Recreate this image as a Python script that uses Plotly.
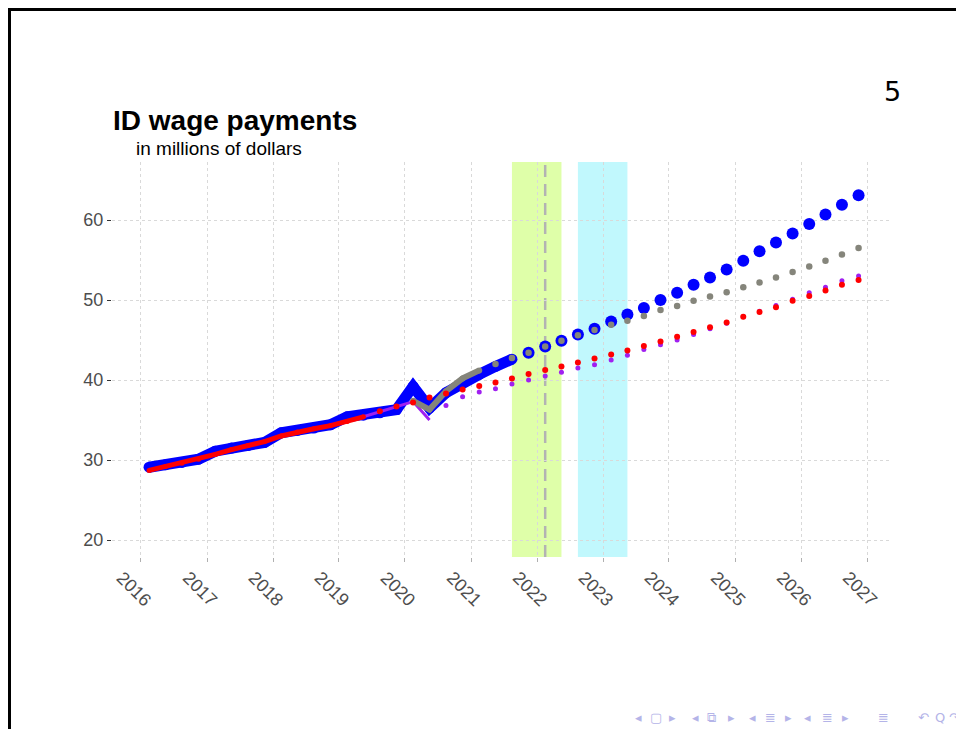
"""ID wage payments: actuals, forecasts and alternative projections (quarterly)."""

import pandas as pd
import plotly.graph_objects as go

QUARTERS = [
    "2016Q1", "2016Q2", "2016Q3", "2016Q4", "2017Q1", "2017Q2", "2017Q3", "2017Q4",
    "2018Q1", "2018Q2", "2018Q3", "2018Q4", "2019Q1", "2019Q2", "2019Q3", "2019Q4",
    "2020Q1", "2020Q2", "2020Q3", "2020Q4", "2021Q1", "2021Q2", "2021Q3", "2021Q4",
    "2022Q1", "2022Q2", "2022Q3", "2022Q4", "2023Q1", "2023Q2", "2023Q3", "2023Q4",
    "2024Q1", "2024Q2", "2024Q3", "2024Q4", "2025Q1", "2025Q2", "2025Q3", "2025Q4",
    "2026Q1", "2026Q2", "2026Q3", "2026Q4",
]
YEAR_LABELS = ["2016", "2017", "2018", "2019", "2020", "2021",
               "2022", "2023", "2024", "2025", "2026", "2027"]

# actual payments 2016Q1-2021Q3, then forecast 2021Q4-2026Q4
BLUE_ACTUAL = [29.1, 29.4, 29.7, 30.1, 31.1, 31.5, 31.8, 32.2, 33.4, 33.7, 34.0, 34.4,
               35.4, 35.6, 35.9, 36.3, 39.2, 36.5, 38.4, 39.7, 40.7, 41.7, 42.6]
BLUE_FCST = [43.4, 44.2, 44.9, 45.7, 46.4, 47.3, 48.2, 49.0, 50.0, 50.9, 51.9,
             52.8, 53.8, 54.9, 56.1, 57.2, 58.3, 59.5, 60.7, 61.9, 63.1]

# gray: line 2020Q1-2021Q1, dots 2021Q2-2026Q4
GRAY_LINE = [37.4, 36.3, 38.6, 40.2, 41.2]
GRAY_DOTS = [42.0, 42.75, 43.4, 44.2, 44.9, 45.6, 46.25, 46.9, 47.4, 48.0, 48.75,
             49.25, 49.9, 50.45, 50.96, 51.6, 52.2, 52.8, 53.5, 54.2, 54.9, 55.7, 56.5]

# red: line 2016Q1-2019Q2, dots 2019Q3-2026Q4
RED_LINE = [28.7, 29.2, 29.6, 30.1, 30.7, 31.3, 31.8, 32.3, 33.0, 33.5, 33.9, 34.3,
            34.8, 35.4]
RED_DOTS = [36.1, 36.7, 37.2, 37.8, 38.3, 38.8, 39.25, 39.7, 40.2, 40.75,
            41.25, 41.7, 42.2, 42.7, 43.2, 43.7, 44.25, 44.8, 45.4, 46.0,
            46.6, 47.2, 47.9, 48.5, 49.1, 49.9, 50.5, 51.2, 51.9, 52.5]

# purple: line 2019Q2-2020Q2, dots 2020Q3-2026Q4
PURPLE_LINE = [35.4, 36.0, 36.6, 37.3, 35.0]
PURPLE_DOTS = [36.8, 37.9, 38.5, 38.9, 39.5, 40.0, 40.5, 40.96, 41.5, 41.9,
               42.5, 43.1, 43.8, 44.4, 45.0, 45.7, 46.4, 47.1, 47.9, 48.6,
               49.3, 50.1, 50.9, 51.6, 52.4, 53.0]

SHADE_GREEN = ("2021Q3", "2022Q2")
SHADE_CYAN = ("2022Q3", "2023Q2")
VLINE_Q = "2022Q1"


def mid_quarter(q):
    return pd.Period(q, freq="Q").start_time + pd.Timedelta(days=45)


def dates_from(start, n):
    i = QUARTERS.index(start)
    return [mid_quarter(q) for q in QUARTERS[i:i + n]]


# slide layout in screen pixels; the page body adds an 8px margin
W, H = 964, 729
PAD = 8
L, R, T, B = 112, 892, 162, 557


def px(x):
    return (x - L) / (R - L)


def py(y):
    return (B - y) / (B - T)


BLUE = "#0000ff"
RED = "#ff0000"
GRAY = "#85857b"
PURPLE = "#a020f0"
TXT = dict(family="Liberation Sans", color="#4d4d4d")

fig = go.Figure()

fig.add_trace(go.Scatter(x=dates_from("2016Q1", len(BLUE_ACTUAL)), y=BLUE_ACTUAL,
                         mode="lines+markers", line=dict(color=BLUE, width=11),
                         marker=dict(color=BLUE, size=11)))
fig.add_trace(go.Scatter(x=dates_from("2021Q4", len(BLUE_FCST)), y=BLUE_FCST,
                         mode="markers", marker=dict(color=BLUE, size=12)))
fig.add_trace(go.Scatter(x=dates_from("2019Q2", len(PURPLE_LINE)), y=PURPLE_LINE,
                         mode="lines", line=dict(color=PURPLE, width=3)))
fig.add_trace(go.Scatter(x=dates_from("2020Q3", len(PURPLE_DOTS)), y=PURPLE_DOTS,
                         mode="markers", marker=dict(color=PURPLE, size=5)))
fig.add_trace(go.Scatter(x=dates_from("2020Q1", len(GRAY_LINE)), y=GRAY_LINE,
                         mode="lines+markers", line=dict(color=GRAY, width=6),
                         marker=dict(color=GRAY, size=6)))
fig.add_trace(go.Scatter(x=dates_from("2021Q2", len(GRAY_DOTS)), y=GRAY_DOTS,
                         mode="markers", marker=dict(color=GRAY, size=6.5)))
fig.add_trace(go.Scatter(x=dates_from("2016Q1", len(RED_LINE)), y=RED_LINE,
                         mode="lines+markers", line=dict(color=RED, width=5),
                         marker=dict(color=RED, size=5)))
fig.add_trace(go.Scatter(x=dates_from("2019Q3", len(RED_DOTS)), y=RED_DOTS,
                         mode="markers", marker=dict(color=RED, size=6)))

# shaded windows and the dashed marker line
for (q0, q1), col in [(SHADE_GREEN, "#dfffa9"), (SHADE_CYAN, "#c1f8fd")]:
    fig.add_shape(type="rect", xref="x", yref="paper", layer="below",
                  x0=mid_quarter(q0), x1=mid_quarter(q1), y0=0, y1=1,
                  fillcolor=col, line_width=0)
fig.add_shape(type="line", xref="x", yref="paper", layer="below",
              x0=mid_quarter(VLINE_Q), x1=mid_quarter(VLINE_Q), y0=0, y1=1,
              line=dict(color="#b3b3b3", width=2.5, dash="12px,7px"))

# slide frame (top and left edges)
fig.add_shape(type="line", xref="paper", yref="paper",
              x0=px(8), x1=px(975), y0=py(9.5), y1=py(9.5),
              line=dict(color="black", width=3))
fig.add_shape(type="line", xref="paper", yref="paper",
              x0=px(9.5), x1=px(9.5), y0=py(8), y1=py(740),
              line=dict(color="black", width=3))

# rotated year labels
for lab in YEAR_LABELS:
    fig.add_annotation(x=pd.Timestamp(f"{lab}-01-01"), xref="x", y=py(589), yref="paper",
                       text=lab, textangle=45, showarrow=False, xshift=-7,
                       xanchor="center", yanchor="middle",
                       font=dict(size=18, **TXT))

fig.add_annotation(x=px(111), y=py(121), xref="paper", yref="paper",
                   text="<b>ID wage payments</b>", showarrow=False,
                   xanchor="left", yanchor="middle",
                   font=dict(family="Liberation Sans", size=28, color="black"))
fig.add_annotation(x=px(134), y=py(148), xref="paper", yref="paper",
                   text="in millions of dollars", showarrow=False,
                   xanchor="left", yanchor="middle",
                   font=dict(family="Liberation Sans", size=19, color="black"))
fig.add_annotation(x=px(892), y=py(92), xref="paper", yref="paper",
                   text="5", showarrow=False, xanchor="center", yanchor="middle",
                   font=dict(family="DejaVu Sans", size=27, color="black"))

# beamer navigation symbols
NAV = [("◂", 638), ("▢", 656), ("▸", 672), ("◂", 695), ("⧉", 711), ("▸", 731),
       ("◂", 752), ("≣", 770), ("▸", 788), ("◂", 807), ("≣", 827), ("▸", 845),
       ("≣", 883), ("↶", 923), ("Q", 940), ("↷", 955)]
for glyph, gx in NAV:
    fig.add_annotation(x=px(gx), y=py(717), xref="paper", yref="paper",
                       text=glyph, showarrow=False, xanchor="center", yanchor="middle",
                       font=dict(family="DejaVu Sans", size=13, color="#b4b4e8"))

fig.update_layout(
    width=W - PAD, height=H - PAD,
    margin=dict(l=L - PAD, r=W - R, t=T - PAD, b=H - B),
    paper_bgcolor="white", plot_bgcolor="white",
    showlegend=False,
    font=dict(size=18, **TXT),
)
fig.update_xaxes(
    type="date", range=["2015-07-25", "2027-05-19"],
    tick0="2016-01-01", dtick="M12", showticklabels=False,
    ticks="outside", ticklen=4, tickcolor="#b0b0b0",
    showgrid=True, gridcolor="#d9d9d9", griddash="3px,3px", gridwidth=1,
    zeroline=False, showline=False,
)
fig.update_yaxes(
    range=[17.875, 67.25], tickvals=[20, 30, 40, 50, 60],
    ticks="outside", ticklen=4, tickcolor="#333333",
    tickfont=dict(size=18, **TXT),
    showgrid=True, gridcolor="#d9d9d9", griddash="3px,3px", gridwidth=1,
    zeroline=False, showline=False,
)

fig.write_html("out.html")
